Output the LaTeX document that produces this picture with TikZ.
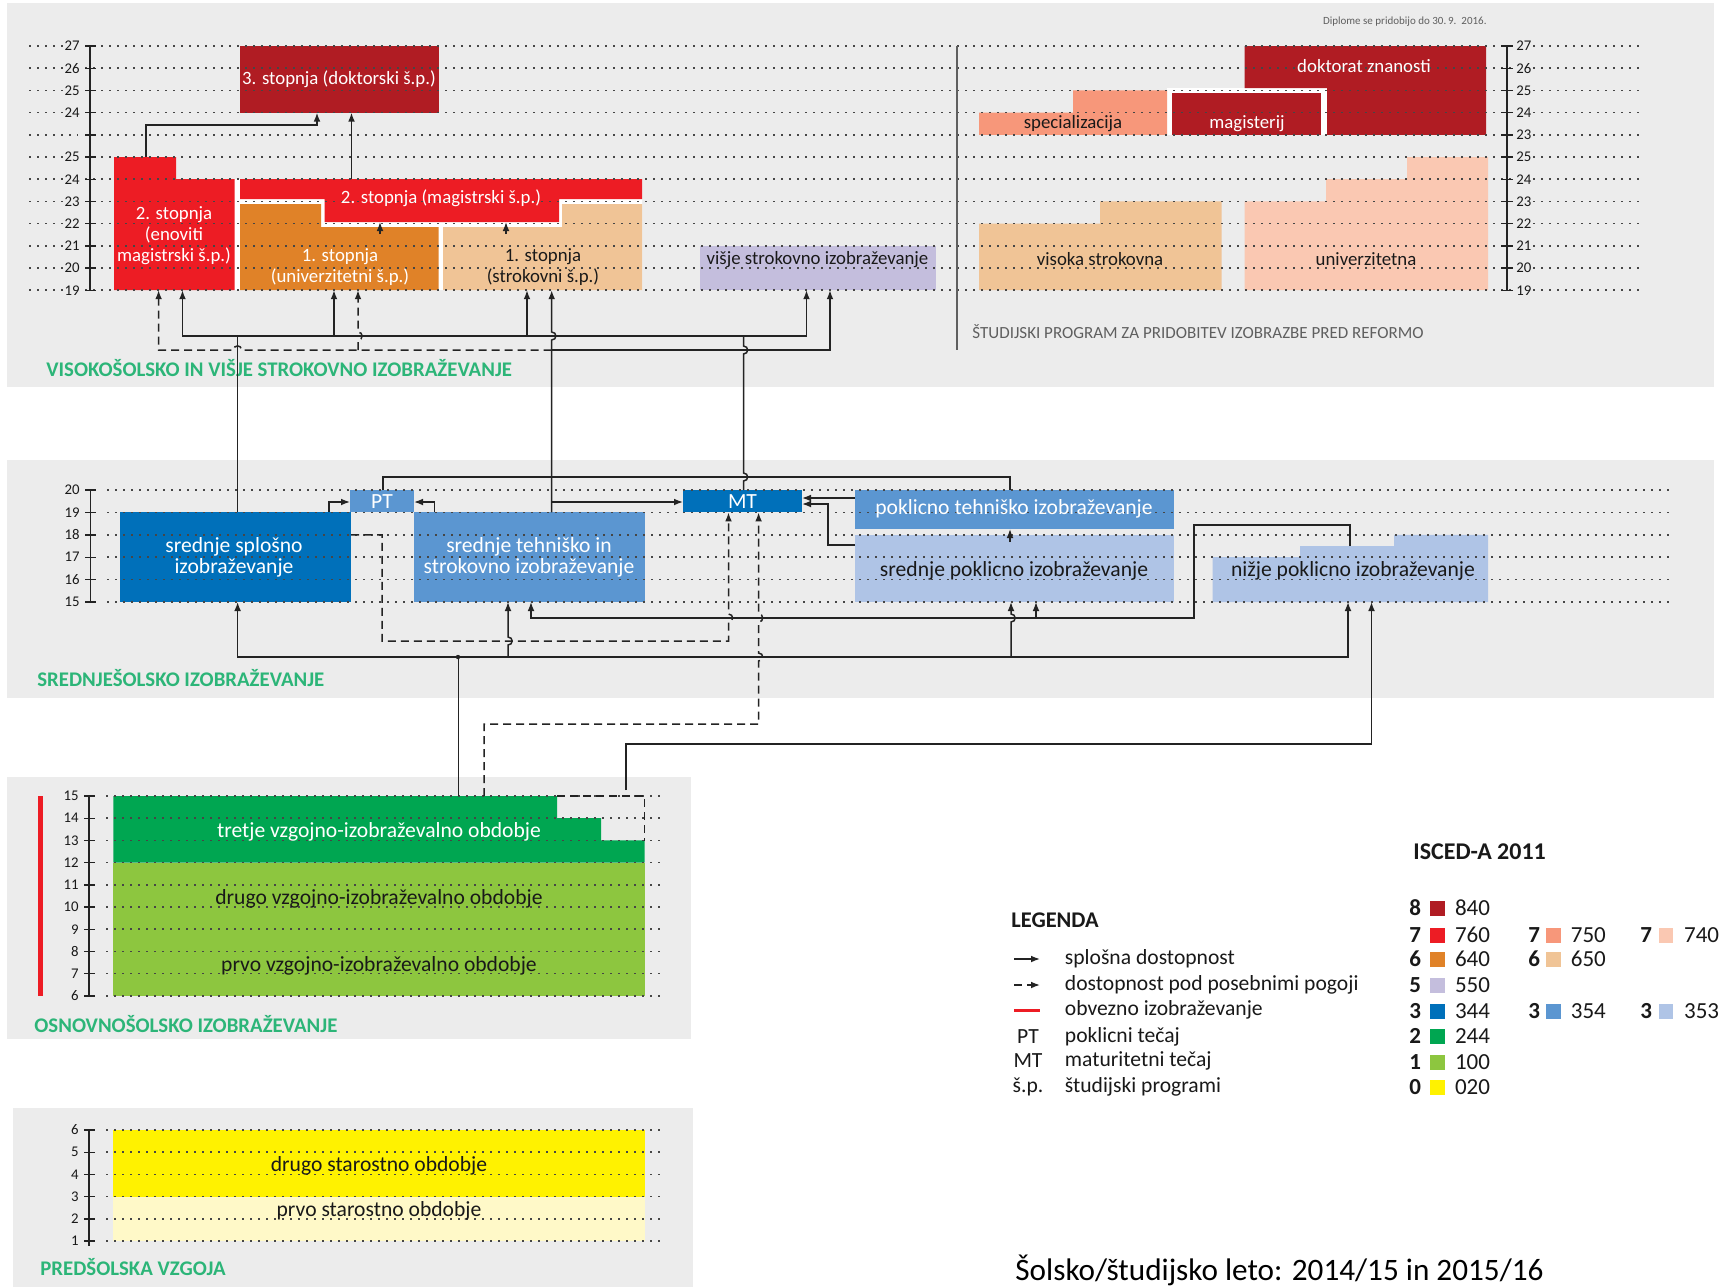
\documentclass[tikz,border=0pt]{standalone}
\usepackage{fontspec}
\setmainfont{Carlito}
\usetikzlibrary{arrows.meta}
\definecolor{panel}{RGB}{236,236,236}
\definecolor{txt}{RGB}{25,25,25}
\definecolor{lc}{RGB}{35,35,35}
\definecolor{dotc}{RGB}{70,70,70}
\definecolor{headgreen}{RGB}{44,181,120}
\definecolor{graytxt}{RGB}{95,95,95}
\definecolor{c840}{RGB}{176,28,35}
\definecolor{c760}{RGB}{237,28,36}
\definecolor{c750}{RGB}{247,151,122}
\definecolor{c740}{RGB}{250,200,178}
\definecolor{c640}{RGB}{224,130,40}
\definecolor{c650}{RGB}{240,196,150}
\definecolor{c550}{RGB}{196,190,221}
\definecolor{c344}{RGB}{0,112,186}
\definecolor{c354}{RGB}{91,150,209}
\definecolor{c353}{RGB}{175,196,230}
\definecolor{c244}{RGB}{0,166,81}
\definecolor{c100}{RGB}{141,198,63}
\definecolor{c020}{RGB}{255,242,0}
\definecolor{c020l}{RGB}{255,249,200}
\tikzset{
  tt/.style={font=\fontsize{9.4}{10.5}\selectfont, align=center, inner sep=0pt},
  mtx/.style={font=\fontsize{10.8}{10.5}\selectfont, align=center, inner sep=0pt},
  wh/.style={text=white},
  bk/.style={text=txt},
  head/.style={font=\fontsize{10.4}{11}\selectfont\bfseries, text=headgreen, anchor=west, inner sep=0pt},
  ticklab/.style={font=\fontsize{7.4}{8}\selectfont, inner sep=1pt, fill=panel, text=txt},
  dotline/.style={draw=dotc, line width=0.8pt, dash pattern=on 0.8pt off 3.2pt},
  axisline/.style={draw=lc, line width=0.7pt},
  conn/.style={draw=lc, line width=0.75pt},
  arr/.style={-{Latex[length=4.5pt,width=3.4pt]}},
  dsh/.style={dash pattern=on 4pt off 2.5pt},
  legtxt/.style={font=\fontsize{10.8}{12}\selectfont, text=txt, anchor=west, inner sep=0pt},
  isd/.style={font=\fontsize{11.5}{12}\selectfont\bfseries, text=txt, anchor=west, inner sep=0pt},
  isc/.style={font=\fontsize{11.5}{12}\selectfont, text=txt, anchor=west, inner sep=0pt}
}
\begin{document}
\begin{tikzpicture}[x=0.5pt,y=-0.5pt]
\useasboundingbox (0,0) rectangle (1720,1287);
\fill[white] (0,0) rectangle (1720,1287);
% panels
\fill[panel] (7,3) rectangle (1714,387);
\fill[panel] (7,460) rectangle (1714,698);
\fill[panel] (7,777) rectangle (691,1039);
\fill[panel] (13,1108) rectangle (693,1287);

% ---------------- top section boxes ----------------
\fill[white] (114,290.2) -- (114,157) -- (176,157) -- (176,179.2) -- (642,179.2) -- (642,290.2) -- cycle;
\fill[c840] (240,46) rectangle (438.5,112.6);
\fill[c760] (114,290.2) -- (114,157) -- (176,157) -- (176,179.2) -- (234.5,179.2) -- (234.5,290.2) -- cycle;
\fill[c760] (240,179.2) -- (642,179.2) -- (642,199) -- (559,199) -- (559,222) -- (324.5,222) -- (324.5,199) -- (240,199) -- cycle;
\fill[c640] (240,290.2) -- (240,204) -- (321,204) -- (321,227) -- (438.5,227) -- (438.5,290.2) -- cycle;
\fill[c650] (443,290.2) -- (443,227) -- (562,227) -- (562,204) -- (642,204) -- (642,290.2) -- cycle;
\fill[c550] (700,245.8) rectangle (936,290.2);
% right cluster
\fill[white] (1167,88) rectangle (1327,135);
\fill[c750] (979,134.8) -- (979,112.6) -- (1073,112.6) -- (1073,90.4) -- (1167,90.4) -- (1167,134.8) -- cycle;
\fill[c840] (1172,93) rectangle (1321,134.8);
\fill[c840] (1244.5,46) -- (1486,46) -- (1486,134.8) -- (1327,134.8) -- (1327,88) -- (1244.5,88) -- cycle;
\fill[c650] (979,290.2) -- (979,223.6) -- (1100,223.6) -- (1100,201.4) -- (1221.6,201.4) -- (1221.6,290.2) -- cycle;
\fill[c740] (1244.5,290.2) -- (1244.5,201.4) -- (1326,201.4) -- (1326,179.2) -- (1407,179.2) -- (1407,157) -- (1488,157) -- (1488,290.2) -- cycle;

% ---------------- middle section boxes ----------------
\fill[c344] (120,512.4) rectangle (351,602);
\fill[c354] (350,490) rectangle (414,512.4);
\fill[c354] (414,512.4) rectangle (645,602);
\fill[c344] (683,490) rectangle (802,512.4);
\fill[c354] (855,490) rectangle (1174,529);
\fill[c353] (855,534.8) rectangle (1174,602);
\fill[c353] (1212.5,602) -- (1212.5,557.2) -- (1300,557.2) -- (1300,546) -- (1394,546) -- (1394,534.8) -- (1488,534.8) -- (1488,602) -- cycle;

% ---------------- osnovno ----------------
\fill[c760] (37.5,796) rectangle (43,996);
\fill[c100] (113.4,862.6) rectangle (644.6,996);
\fill[c244] (113.4,862.6) -- (113.4,796) -- (557,796) -- (557,818.2) -- (601,818.2) -- (601,840.4) -- (644.6,840.4) -- (644.6,862.6) -- cycle;

% ---------------- predsolska ----------------
\fill[c020] (113.4,1130) rectangle (645,1196.6);
\fill[c020l] (113.4,1196.6) rectangle (645,1241);

% ---------------- grids ----------------
\foreach \k in {0,...,11} \draw[dotline] (29,{46+22.2*\k}) -- (1644,{46+22.2*\k});
\foreach \k in {0,...,5} \draw[dotline] (107,{490+22.4*\k}) -- (1671,{490+22.4*\k});
\foreach \k in {0,...,9} \draw[dotline] (106,{796+22.2*\k}) -- (660,{796+22.2*\k});
\foreach \k in {0,...,5} \draw[dotline] (106,{1130+22.2*\k}) -- (665,{1130+22.2*\k});

% axes
\draw[axisline] (90,46) -- (90,290.2);
\foreach \lab [count=\k from 0] in {27,26,25,24,{},25,24,23,22,21,20,19} {
  \draw[axisline] (85,{46+22.2*\k}) -- (96,{46+22.2*\k});
  \node[ticklab, anchor=east] at (82,{46+22.2*\k}) {\lab};
}
\draw[axisline] (1507,46) -- (1507,290.2);
\foreach \lab [count=\k from 0] in {27,26,25,24,23,25,24,23,22,21,20,19} {
  \draw[axisline] (1501,{46+22.2*\k}) -- (1513,{46+22.2*\k});
  \node[ticklab, anchor=west] at (1514,{46+22.2*\k}) {\lab};
}
\draw[axisline] (90.5,490) -- (90.5,602);
\foreach \lab [count=\k from 0] in {20,19,18,17,16,15} {
  \draw[axisline] (85,{490+22.4*\k}) -- (96,{490+22.4*\k});
  \node[ticklab, anchor=east] at (82,{490+22.4*\k}) {\lab};
}
\draw[axisline] (89,796) -- (89,996);
\foreach \lab [count=\k from 0] in {15,14,13,12,11,10,9,8,7,6} {
  \draw[axisline] (84,{796+22.2*\k}) -- (95,{796+22.2*\k});
  \node[ticklab, anchor=east] at (81,{796+22.2*\k}) {\lab};
}
\draw[axisline] (89,1130) -- (89,1246);
\foreach \lab [count=\k from 0] in {6,5,4,3,2,1} {
  \draw[axisline] (84,{1130+22.2*\k}) -- (95,{1130+22.2*\k});
  \node[ticklab, anchor=east] at (81,{1130+22.2*\k}) {\lab};
}
\draw[draw=graytxt, line width=0.8pt] (957,46) -- (957,350);

% ---------------- box texts ----------------
\node[tt,wh] (d3) at (339,79) {3. stopnja (doktorski š.p.)};
\node[tt,wh] (s2e) at (174,236) {2. stopnja\\(enoviti\\magistrski š.p.)};
\node[tt,wh] (s2m) at (441,198) {2. stopnja (magistrski š.p.)};
\node[tt,wh] (s1u) at (340,267.5) {1. stopnja\\(univerzitetni š.p.)};
\node[tt,bk] (s1s) at (543,267.5) {1. stopnja\\(strokovni š.p.)};
\node[tt,bk] (vsi) at (817.5,260) {višje strokovno izobraževanje};
\node[tt,bk] (spec) at (1073,124) {specializacija};
\node[tt,wh] (mag) at (1247,124) {magisterij};
\node[tt,wh] (dokt) at (1364,66) {doktorat znanosti};
\node[tt,bk] (vis) at (1100,259) {visoka strokovna};
\node[tt,bk] (univ) at (1366,259) {univerzitetna};

\node[mtx,wh] (ss) at (234,557.5) {srednje splošno\\izobraževanje};
\node[mtx,wh] (st) at (529,557.5) {srednje tehniško in\\strokovno izobraževanje};
\node[mtx,wh] (pt) at (382,501.2) {PT};
\node[mtx,wh] (mt) at (742.5,501.2) {MT};
\node[mtx,wh] (ptz) at (1014,509) {poklicno tehniško izobraževanje};
\node[mtx,bk] (spi) at (1014,571) {srednje poklicno izobraževanje};
\node[mtx,bk] (npi) at (1353,571) {nižje poklicno izobraževanje};

\node[mtx,wh] (o3) at (379,832) {tretje vzgojno-izobraževalno obdobje};
\node[mtx,bk] (o2) at (379,899) {drugo vzgojno-izobraževalno obdobje};
\node[mtx,bk] (o1) at (379,966) {prvo vzgojno-izobraževalno obdobje};
\node[mtx,bk] (p2) at (379,1166) {drugo starostno obdobje};
\node[mtx,bk] (p1) at (379,1211) {prvo starostno obdobje};

% headings
\node[head] (h1) at (46,368) {VISOKOŠOLSKO IN VIŠJE STROKOVNO IZOBRAŽEVANJE};
\node[head] (h2) at (37,678) {SREDNJEŠOLSKO IZOBRAŽEVANJE};
\node[head] (h3) at (34,1024) {OSNOVNOŠOLSKO IZOBRAŽEVANJE};
\node[head] (h4) at (40,1267) {PREDŠOLSKA VZGOJA};
\node[font=\fontsize{8.5}{9}\selectfont, text=graytxt, anchor=west, inner sep=0pt] (hr) at (972,332) {ŠTUDIJSKI PROGRAM ZA PRIDOBITEV IZOBRAZBE PRED REFORMO};
\node[font=\fontsize{5.5}{6}\selectfont, text=graytxt, anchor=east, inner sep=0pt] (dip) at (1487,22) {Diplome se pridobijo do 30.\,9.\ \ 2016.};

% ---------------- connectors: top ----------------
\draw[conn,arr] (146,157) -- (146,125) -- (317,125) -- (317,112.6);
\draw[conn,arr] (351.5,179.2) -- (351.5,112.6);
\draw[conn,arr] (380,234) -- (380,222);
\draw[conn,arr] (506,234) -- (506,222);
\draw[conn] (237.6,512.4) -- (237.6,336);
\draw[conn,arr] (237.6,336) -- (182.5,336) -- (182.5,290.2);
\draw[conn,arr] (237.6,336) -- (806.5,336) -- (806.5,290.2);
\draw[conn,arr] (334,336) -- (334,290.2);
\draw[conn,arr] (527,336) -- (527,290.2);
\draw[conn] (743.5,490) -- (743.5,481) .. controls (749,481) and (749,473) .. (743.5,473) -- (743.5,354) .. controls (749,354) and (749,346) .. (743.5,346) -- (743.5,336);
\draw[conn,arr] (551.7,512.4) -- (551.7,340) .. controls (557.2,340) and (557.2,332) .. (551.7,332) -- (551.7,290.2);
\draw[conn,arr] (551.7,350) -- (830,350) -- (830,290.2);
\draw[conn,dsh,arr] (551.7,350) -- (241.6,350) .. controls (241.6,344.5) and (233.6,344.5) .. (233.6,350) -- (158.6,350) -- (158.6,290.2);
\draw[conn,dsh,arr] (358,350) -- (358,340) .. controls (363.5,340) and (363.5,332) .. (358,332) -- (358,290.2);

% ---------------- connectors: middle ----------------
\draw[conn,arr] (329,512.4) -- (329,502) -- (350,502);
\draw[conn,arr] (434.5,512.4) -- (434.5,502) -- (414,502);
\draw[conn] (383,490) -- (383,477) -- (1010,477) -- (1010,490);
\draw[conn,arr] (551.7,502) -- (683,502);
\draw[conn,arr] (855,498) -- (802,498);
\draw[conn,arr] (855,545) -- (828,545) -- (828,504) -- (802,504);
\draw[conn,arr] (1010,542) -- (1010,529);
\draw[conn,dsh,arr] (351,534.8) -- (382,534.8) -- (382,641) -- (728.5,641) -- (728.5,622) .. controls (734,622) and (734,614) .. (728.5,614) -- (728.5,512.4);
\draw[conn,dsh,arr] (484,796) -- (484,724) -- (758.6,724) -- (758.6,661) .. controls (764.1,661) and (764.1,653) .. (758.6,653) -- (758.6,622) .. controls (764.1,622) and (764.1,614) .. (758.6,614) -- (758.6,512.4);
\draw[conn,arr] (1350,546) -- (1350,525) -- (1194,525) -- (1194,618) -- (531,618) -- (531,602);
\draw[conn,arr] (1036,618) -- (1036,602);
\draw[conn,arr] (458,657) -- (237.6,657) -- (237.6,602);
\draw[conn,arr] (458,657) -- (1348,657) -- (1348,602);
\draw[conn,arr] (508,657) -- (508,645) .. controls (513.5,645) and (513.5,637) .. (508,637) -- (508,602);
\draw[conn,arr] (1011,657) -- (1011,622) .. controls (1016.5,622) and (1016.5,614) .. (1011,614) -- (1011,602);
\fill[lc] (458,657) circle (1.1pt);
\draw[conn] (458.5,796) -- (458.5,657);
\draw[conn,arr] (626,790) -- (626,744) -- (1371.5,744) -- (1371.5,602);
\draw[conn,dsh] (557,796) -- (644.6,796) -- (644.6,841);

% ---------------- legend ----------------
\node[font=\fontsize{11.2}{12}\selectfont\bfseries, text=txt, anchor=west, inner sep=0pt] (leg) at (1011,920) {LEGENDA};
\draw[conn,arr] (1014,959) -- (1040,959);
\draw[conn,dsh,arr] (1014,985) -- (1040,985);
\draw[c760, line width=1.5pt] (1014,1010) -- (1040,1010);
\node[legtxt, anchor=center] (lpt) at (1028,1037) {PT};
\node[legtxt, anchor=center] (lmt) at (1028,1061) {MT};
\node[legtxt, anchor=center] (lsp) at (1028,1087) {š.p.};
\node[legtxt] at (1064.5,959) {splošna dostopnost};
\node[legtxt] at (1064.5,985) {dostopnost pod posebnimi pogoji};
\node[legtxt] at (1064.5,1010) {obvezno izobraževanje};
\node[legtxt] at (1064.5,1037) {poklicni tečaj};
\node[legtxt] at (1064.5,1061) {maturitetni tečaj};
\node[legtxt] at (1064.5,1087) {študijski programi};

\node[font=\fontsize{12}{13}\selectfont\bfseries, text=txt, anchor=west, inner sep=0pt] (isced) at (1413,852) {ISCED-A 2011};
\foreach \d/\c/\yy in {8/840/908, 7/760/935, 6/640/959, 5/550/985, 3/344/1011, 2/244/1036, 1/100/1062, 0/020/1087} {
  \node[isd] at (1409,\yy) {\d};
  \fill[c\c] (1430,\yy-7.5) rectangle (1445,\yy+7.5);
  \node[isc] at (1454.6,\yy) {\c};
}
\foreach \d/\c/\yy in {7/750/935, 6/650/959, 3/354/1011} {
  \node[isd] at (1528,\yy) {\d};
  \fill[c\c] (1546,\yy-7.5) rectangle (1561,\yy+7.5);
  \node[isc] at (1570.5,\yy) {\c};
}
\foreach \d/\c/\yy in {7/740/935, 3/353/1011} {
  \node[isd] at (1640,\yy) {\d};
  \fill[c\c] (1659,\yy-7.5) rectangle (1673,\yy+7.5);
  \node[isc] at (1683.7,\yy) {\c};
}

\node[font=\fontsize{15.6}{16}\selectfont, text=black, anchor=west, inner sep=0pt] (title) at (1015,1270) {Šolsko/študijsko leto: 2014/15 in 2015/16};
\end{tikzpicture}
\end{document}
